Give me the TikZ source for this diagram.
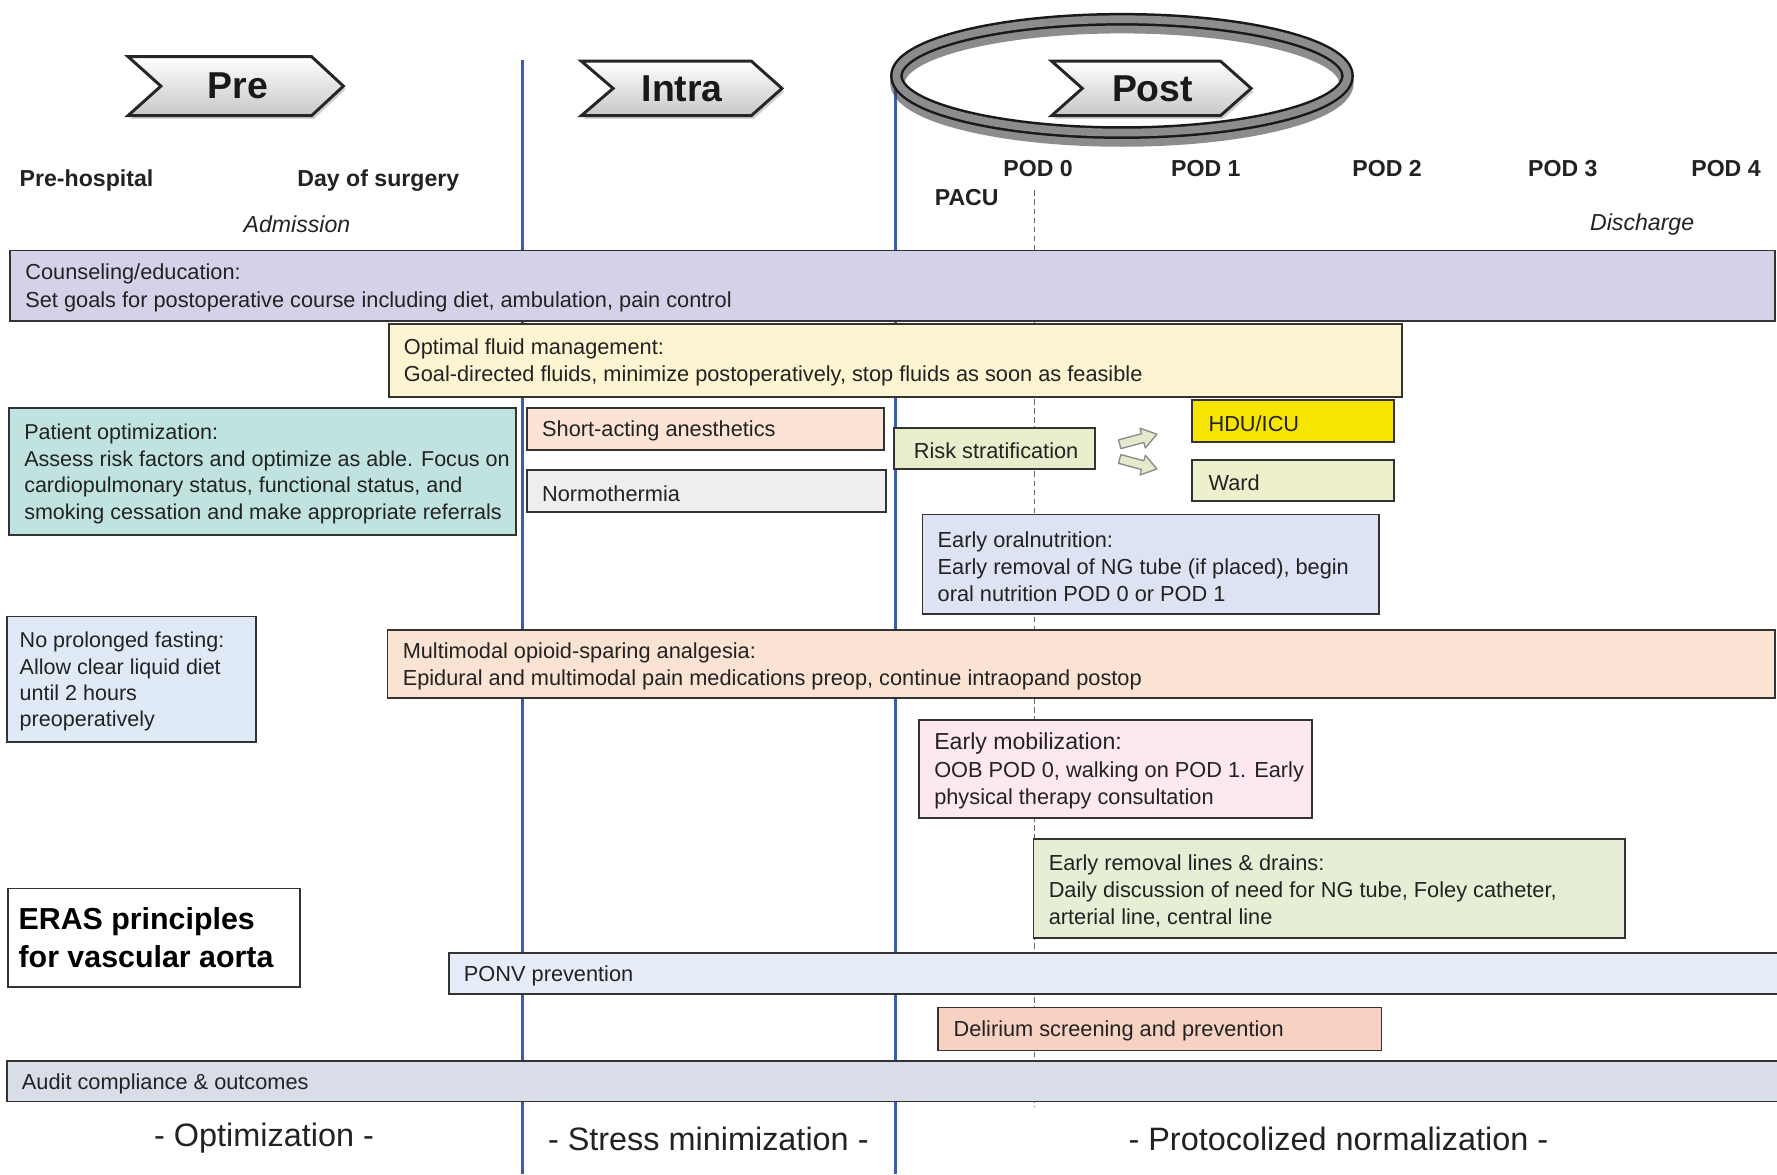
\documentclass[tikz,border=0pt]{standalone}
\usepackage{fontspec}
\setmainfont{Liberation Sans}
\usetikzlibrary{fit,shadings}
\definecolor{cBlue}{HTML}{3B5DAE}
\definecolor{cCouns}{HTML}{D4D2E9}
\definecolor{cFluid}{HTML}{FDF4D2}
\definecolor{cPat}{HTML}{C0E3DF}
\definecolor{cShort}{HTML}{FBE4D6}
\definecolor{cNormo}{HTML}{EEEEEE}
\definecolor{cRisk}{HTML}{E8EDCB}
\definecolor{cHdu}{HTML}{F6E500}
\definecolor{cWard}{HTML}{EEF0CD}
\definecolor{cOral}{HTML}{DDE3F2}
\definecolor{cFast}{HTML}{E0EAF6}
\definecolor{cMulti}{HTML}{FBE3D3}
\definecolor{cMob}{HTML}{FCE8EE}
\definecolor{cLines}{HTML}{E6EED5}
\definecolor{cPonv}{HTML}{E6EDF8}
\definecolor{cDelir}{HTML}{F7D2C3}
\definecolor{cAudit}{HTML}{D9DDE8}
\definecolor{cArrow}{HTML}{E6E9CC}
\definecolor{cTxt}{HTML}{222222}
\newcommand{\ebox}[8][]{%
  \node[ebx, fill=#7, fit={(#3,#4) (#5,#6)}] (#2) {};
  \node[etxt, anchor=west, #1] (#2-t) at ([xshift=6.5pt,yshift=-1pt]#2.west) {#8};
}
\begin{document}
\begin{tikzpicture}[x=0.5pt,y=-0.5pt,
 vline/.style={cBlue, line width=1.1pt},
 dline/.style={black!60, line width=0.5pt, dash pattern=on 2.5pt off 1.5pt},
 ebx/.style={draw=black!80, line width=0.8pt, inner sep=0pt, outer sep=0pt},
 etxt/.style={inner sep=0pt, align=left, text=cTxt, font=\fontsize{9.6}{12}\selectfont},
 hdr/.style={font=\bfseries\fontsize{10.2}{12}\selectfont, text=cTxt, inner sep=0pt, yshift=-1pt},
 hdri/.style={font=\itshape\fontsize{10.2}{12}\selectfont, text=cTxt, inner sep=0pt, yshift=-1pt},
 chev/.style={draw=black!85, line width=1.3pt, top color=white, bottom color=black!22, line join=miter},
 chevshadow/.style={fill=black!35, opacity=0.5},
 chevtxt/.style={font=\bfseries\fontsize{16.5}{18}\selectfont, text=black!90, inner sep=0pt},
 phase/.style={font=\fontsize{14.3}{16}\selectfont, text=cTxt, inner sep=0pt, yshift=-0.7pt},
 barrow/.style={fill=cArrow, draw=black!45, line width=0.6pt, line join=round}
]
\useasboundingbox (0,0) rectangle (1568,1036);
\fill[white] (0,0) rectangle (1568,1036);

% vertical phase lines
\coordinate (l1t) at (461,53);  \coordinate (l1b) at (461,1036);
\coordinate (l2t) at (790,60);  \coordinate (l2b) at (790,1036);
\coordinate (d0t) at (913,168); \coordinate (d0b) at (913,977);
\draw[vline] (l1t) -- (l1b);
\draw[vline] (l2t) -- (l2b);
\draw[dline] (d0t) -- (d0b);

% ellipse ring around Post
\coordinate (ell) at (990,67);
\draw[black!75, opacity=0.6, line width=6.5pt] ([yshift=-3pt]ell) ellipse [x radius=99pt, y radius=25pt];
\draw[black!90, line width=5.6pt] (ell) ellipse [x radius=99.5pt, y radius=25pt];
\draw[black!45, line width=3.4pt] (ell) ellipse [x radius=99.5pt, y radius=25pt];

% chevrons
\fill[chevshadow] (115,53) -- (277,53) -- (305,79) -- (277,105) -- (115,105) -- (144,79) -- cycle;
\path[chev] (113,50) -- (275,50) -- (303,76) -- (275,102) -- (113,102) -- (142,76) -- cycle;
\node[chevtxt] (pre) at (210,76) {Pre};
\fill[chevshadow] (515,57) -- (665,57) -- (692,81) -- (665,105) -- (515,105) -- (543,81) -- cycle;
\path[chev] (513,54) -- (663,54) -- (690,78) -- (663,102) -- (513,102) -- (541,78) -- cycle;
\node[chevtxt] (intra) at (602,78) {Intra};
\fill[chevshadow] (930,57) -- (1079,57) -- (1106,81) -- (1079,105) -- (930,105) -- (957,81) -- cycle;
\path[chev] (928,54) -- (1077,54) -- (1104,78) -- (1077,102) -- (928,102) -- (955,78) -- cycle;
\node[chevtxt] (post) at (1017,78) {Post};

% headers
\node[hdr, anchor=west] (prehosp) at (17,157) {Pre-hospital};
\node[hdr, anchor=west] (dos) at (262,157) {Day of surgery};
\node[hdri] (adm) at (262,196) {Admission};
\node[hdr] (pod0) at (916,147) {POD 0};
\node[hdr] (pod1) at (1064,147) {POD 1};
\node[hdr] (pod2) at (1224,147) {POD 2};
\node[hdr] (pod3) at (1379,147) {POD 3};
\node[hdr] (pod4) at (1523,147) {POD 4};
\node[hdr] (pacu) at (853,172) {PACU};
\node[hdri] (disc) at (1449,196) {Discharge};

% boxes
\ebox{couns}{9}{221}{1566}{283}{cCouns}{Counseling/education:\\Set goals for postoperative course including diet, ambulation, pain control}
\ebox{fluid}{343}{286}{1237}{350}{cFluid}{Optimal fluid management:\\Goal-directed fluids, minimize postoperatively, stop fluids as soon as feasible}
\ebox[font=\fontsize{9.5}{11.7}\selectfont]{patient}{8}{360}{455}{472}{cPat}{Patient optimization:\\Assess risk factors and optimize as able. Focus on\\cardiopulmonary status, functional status, and\\smoking cessation and make appropriate referrals}
\ebox{short}{465}{360}{780}{397}{cShort}{Short-acting anesthetics}
\ebox{normo}{465}{415}{782}{452}{cNormo}{Normothermia}
\ebox[xshift=2pt]{risk}{789}{378}{966}{414}{cRisk}{Risk stratification}
\ebox[xshift=0.5pt]{hdu}{1052}{353}{1230}{390}{cHdu}{HDU/ICU}
\ebox[xshift=0.5pt]{ward}{1052}{406}{1230}{442}{cWard}{Ward}
\ebox{oral}{814}{454}{1217}{542}{cOral}{Early oralnutrition:\\Early removal of NG tube (if placed), begin\\oral nutrition POD 0 or POD 1}
\ebox[font=\fontsize{9.5}{11.6}\selectfont, xshift=-1pt]{fast}{6}{544}{226}{655}{cFast}{No prolonged fasting:\\Allow clear liquid diet\\until 2 hours\\preoperatively}
\ebox{multi}{342}{556}{1566}{616}{cMulti}{Multimodal opioid-sparing analgesia:\\Epidural and multimodal pain medications preop, continue intraopand postop}
\ebox[font=\fontsize{9.6}{12.2}\selectfont]{mob}{811}{635}{1158}{722}{cMob}{{\fontsize{10.2}{12.2}\selectfont Early mobilization:}\\OOB POD 0, walking on POD 1. Early\\physical therapy consultation}
\ebox{lines}{912}{740}{1434}{828}{cLines}{Early removal lines \& drains:\\Daily discussion of need for NG tube, Foley catheter,\\arterial line, central line}
\ebox{ponv}{396}{841}{1576}{877}{cPonv}{PONV prevention}
\ebox{delir}{828}{889}{1219}{927}{cDelir}{Delirium screening and prevention}
\ebox{audit}{6}{936}{1576}{972}{cAudit}{Audit compliance \& outcomes}

% ERAS title box
\node[ebx, fill=white, fit={(7,784) (265,871)}] (eras) {};
\node[etxt, anchor=west, font=\bfseries\fontsize{13.4}{16.5}\selectfont, text=black] (eras-t) at ([xshift=4.5pt]eras.west) {ERAS principles\\for vascular aorta};

% block arrows from risk stratification
\begin{scope}[shift={(988,392)}, rotate=15]
  \draw[barrow] (0,-4) -- (21,-4) -- (21,-9) -- (34,0) -- (21,9) -- (21,4) -- (0,4) -- cycle;
\end{scope}
\begin{scope}[shift={(988,405)}, rotate=-15]
  \draw[barrow] (0,-4) -- (21,-4) -- (21,-9) -- (34,0) -- (21,9) -- (21,4) -- (0,4) -- cycle;
\end{scope}

% phase labels
\node[phase] (optim) at (233,1003) {- Optimization -};
\node[phase] (stress) at (625,1004) {- Stress minimization -};
\node[phase] (normal) at (1181,1004) {- Protocolized normalization -};
\end{tikzpicture}
\end{document}
